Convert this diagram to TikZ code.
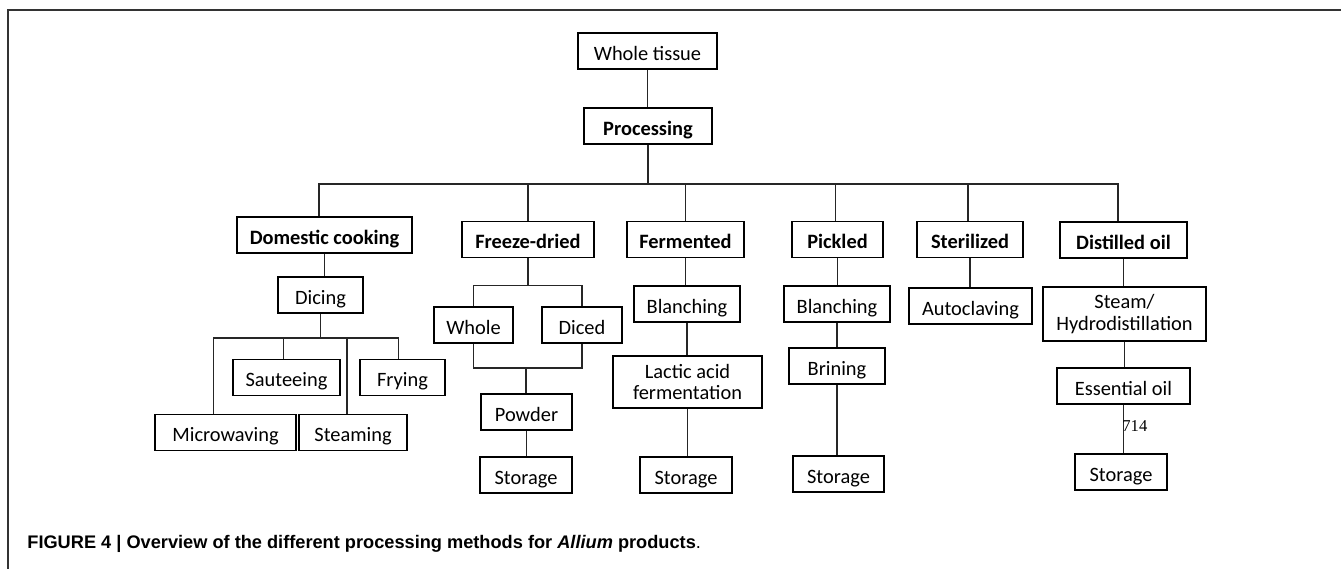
\documentclass[tikz,border=0pt]{standalone}
\usepackage{fontspec}
\setmainfont{Carlito}
\newfontfamily\capfont{Liberation Sans}
\newfontfamily\numfont{Liberation Serif}
\usepackage{tikz}
\usetikzlibrary{calc}

\begin{document}
\begin{tikzpicture}[x=0.5pt, y=-0.5pt]
  \tikzset{
    proc box/.style={draw, line width=0.9pt, inner sep=0pt, minimum height=18pt,
      text height=9pt, text depth=0pt, font=\fontsize{10.2}{12}\selectfont},
    head box/.style={proc box, font=\fontsize{10.2}{12}\selectfont\bfseries},
    two box/.style={draw, line width=0.9pt, inner sep=0pt, align=center,
      font=\fontsize{10.2}{10.6}\selectfont},
    tree line/.style={line width=0.75pt, black!85},
  }

  % style, name, centre (px), width (px), text
  \newcommand{\pnode}[5]{
    \node[#1, minimum width=#4*0.5pt] (#2) at (#3) {#5};
  }

  \useasboundingbox (0,0) rectangle (1341,569);
  \draw[line width=0.75pt, black!80] (1341,10) -- (8,10) -- (8,569);

  % top of the tree
  \pnode{proc box}{whole}{647.5,51}{139}{Whole tissue}
  \pnode{head box}{proc}{648,126}{128}{Processing}

  % six processing routes
  \pnode{head box}{dom}{324.5,235}{175}{Domestic cooking}
  \pnode{head box}{fd}{528,239.5}{132}{Freeze-dried}
  \pnode{head box}{ferm}{685.5,239.5}{117}{Fermented}
  \pnode{head box}{pick}{837.5,239.5}{91}{Pickled}
  \pnode{head box}{ster}{970,239.5}{106}{Sterilized}
  \pnode{head box}{dist}{1123.5,240}{127}{Distilled oil}

  % domestic cooking
  \pnode{proc box}{dicing}{320.5,295}{85}{Dicing}
  \pnode{proc box}{saut}{286.5,377.5}{107}{Sauteeing}
  \pnode{proc box}{fry}{402.5,377.5}{85}{Frying}
  \pnode{proc box}{micro}{225.5,432.5}{141}{Microwaving}
  \pnode{proc box}{steam}{353,432.5}{108}{Steaming}

  % freeze-dried
  \pnode{proc box}{whl}{473.5,325}{79}{Whole}
  \pnode{proc box}{dcd}{582,325}{80}{Diced}
  \pnode{proc box}{powder}{526.5,412}{91}{Powder}
  \pnode{proc box}{storA}{526,475}{92}{Storage}

  % fermented
  \pnode{proc box}{blanchA}{687,304}{106}{Blanching}
  \node[two box, minimum width=74.5pt, minimum height=26pt] (lactic) at (687.5,382)
    {Lactic acid\\fermentation};
  \pnode{proc box}{storB}{686,475}{92}{Storage}

  % pickled
  \pnode{proc box}{blanchB}{837,304}{106}{Blanching}
  \pnode{proc box}{brine}{837,366}{96}{Brining}
  \pnode{proc box}{storC}{838.5,474}{91}{Storage}

  % sterilized
  \pnode{proc box}{auto}{970.5,306}{123}{Autoclaving}

  % distilled oil
  \node[two box, minimum width=81.5pt, minimum height=27pt] (steamh) at (1124.5,314)
    {Steam/\\Hydrodistillation};
  \pnode{proc box}{ess}{1123.5,386}{133}{Essential oil}
  \pnode{proc box}{storD}{1121,472}{92}{Storage}

  % connectors
  \coordinate (bus) at (648,184);
  \draw[tree line] (proc.south) -- (bus);
  \foreach \n/\s in {dom/-2.75pt, fd/0pt, ferm/0pt, pick/-1pt, ster/-1pt, dist/-2.75pt}
    \draw[tree line] (bus) -| ([xshift=\s]\n.north);
  \foreach \n/\s in {micro/-6pt, saut/-1.5pt, steam/-3pt, fry/-2pt}
    \draw[tree line] (dicing.south) -- ++(0,24) -| ([xshift=\s]\n.north);
  \foreach \n in {whl, dcd}
    \draw[tree line] (fd.south) -- ++(0,27) -| (\n.north);
  \coordinate (fdjoin) at (526,368);
  \draw[tree line] (whl.south) |- (fdjoin) -| (dcd.south);
  \draw[tree line] (fdjoin) -- (fdjoin |- powder.north);
  \foreach \a/\b in {whole/proc, dom/dicing, powder/storA, ferm/blanchA, blanchA/lactic,
      lactic/storB, pick/blanchB, blanchB/brine, brine/storC, ster/auto,
      dist/steamh, steamh/ess, ess/storD}
    \draw[tree line] (\a.south) -- (\a.south |- \b.north);

  \node[anchor=west, inner sep=0pt, font=\numfont\fontsize{8.3}{10}\selectfont]
    (pgnum) at (1122,426) {714};

  % caption
  \node[anchor=base west, inner sep=0pt, font=\capfont\bfseries\fontsize{9.1}{11}\selectfont]
    (caption) at (27,548)
    {FIGURE 4 | Overview of the different processing methods for \textit{Allium} products\textmd{.}};
\end{tikzpicture}
\end{document}
